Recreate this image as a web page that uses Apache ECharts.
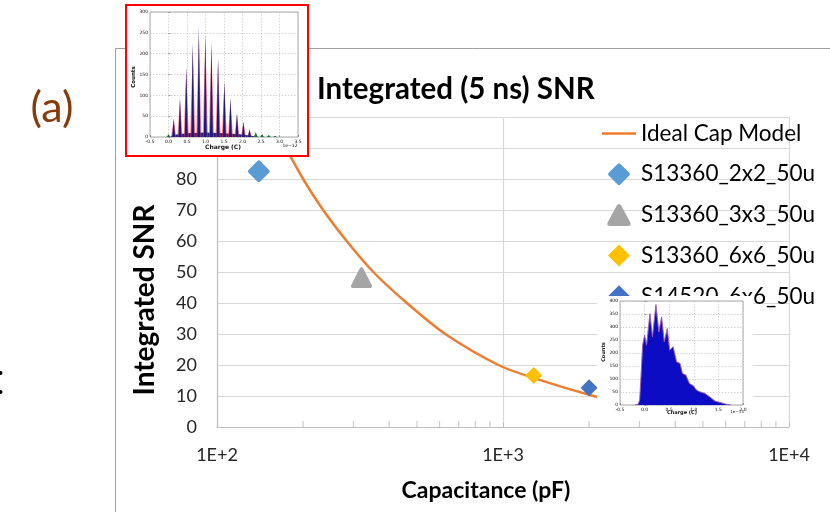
<!DOCTYPE html>
<html>
<head>
<meta charset="utf-8">
<script src="https://cdn.jsdelivr.net/npm/echarts@6/dist/echarts.min.js"></script>
<style>
  html, body { margin: 0; padding: 0; background: #fff; }
  #chart { width: 830px; height: 512px; }
</style>
</head>
<body>
<div id="chart"></div>
<script>
// ---- Main plot: integrated SNR vs. detector capacitance ----
const capMinorTicks = [200, 300, 400, 500, 600, 700, 800, 900, 2000, 3000, 4000, 5000, 6000, 7000, 8000, 9000];
const seriesNames = ['Ideal Cap Model', 'S13360_2x2_50u', 'S13360_3x3_50u', 'S13360_6x6_50u', 'S14520_6x6_50u'];

// Ideal capacitance model (pF, SNR)
const idealCapModel = [[155, 99], [165, 94], [200, 80], [235, 70], [284, 60], [352, 50], [461, 40],
  [628, 30], [964, 20], [1300, 15.6], [2073, 10], [2500, 8.5]];

// Measured SiPMs (pF, SNR)
const s13360_2x2 = [[140, 82.5]];
const s13360_3x3 = [[320, 48.2]];
const s13360_6x6 = [[1280, 16.6]];
const s14520_6x6 = [[2000, 12.7]];

// ---- Inset A: finger-spectrum charge histogram (charge in 1e-12 C) ----
const peakChargeA = [0.0, 0.14, 0.31, 0.48, 0.655, 0.82, 0.995, 1.16, 1.34, 1.51, 1.675, 1.85, 2.025, 2.19, 2.36, 2.53, 2.71, 2.88];
const peakCountsA = [7, 45, 94, 170, 228, 267, 247, 228, 190, 135, 95, 57, 37, 19, 12, 7, 5, 3];
const peakFitA = [5, 42, 90, 165, 215, 243, 240, 222, 185, 130, 90, 55, 35, 17, 10, 6, 4, 2];
const floorChargeA = [0.05, 0.12, 0.5, 1.0, 1.5, 2.0, 2.3, 2.45];
const floorCountsA = [0, 5, 9, 11, 9, 6, 2, 0];

// ---- Inset B: charge histogram (charge in 1e-13 C) ----
const chargeB = [-0.2, -0.13, -0.1, -0.07, -0.04, 0.0, 0.04, 0.108, 0.16, 0.23, 0.29, 0.345, 0.40, 0.46, 0.51,
  0.58, 0.65, 0.72, 0.77, 0.84, 0.91, 0.99, 1.05, 1.12, 1.22, 1.32, 1.43, 1.53, 1.66, 1.76];
const countsB = [0, 3, 20, 120, 230, 268, 230, 351, 262, 386, 281, 339, 243, 294, 211,
  224, 166, 160, 121, 115, 83, 74, 58, 51, 45, 32, 15, 10, 3, 0];

const FONT = 'Lato, "Open Sans", sans-serif';
const roundDiamond = 'path://M44,5 Q50,-1 56,5 L95,44 Q101,50 95,56 L56,95 Q50,101 44,95 L5,56 Q-1,50 5,44 Z';
const roundTriangle = 'path://M41,10 Q50,-4 59,10 L96,78 Q104,94 86,94 L14,94 Q-4,94 4,78 Z';
const plainDiamond = 'path://M50,0 L100,50 L50,100 L0,50 Z';
const legendLine = 'path://M0,0 L36,0 L36,2.6 L0,2.6 Z';

function zip(xs, ys) { return xs.map((x, i) => [x, ys[i]]); }

function peakRenderer(halfWidth, colorOf) {
  return function (params, api) {
    const x = api.value(0), h = api.value(1);
    return {
      type: 'polygon',
      shape: { points: [api.coord([x - halfWidth, 0]), api.coord([x, h]), api.coord([x + halfWidth, 0])] },
      style: { fill: colorOf(x) }
    };
  };
}

const insetAxisLabel = { fontSize: 4.5, color: '#111', fontFamily: 'DejaVu Sans', margin: 2, formatter: v => v.toFixed(1) };
const insetYLabel = { fontSize: 4.5, color: '#111', fontFamily: 'DejaVu Sans', margin: 2 };
const insetSplit = { show: true, lineStyle: { color: '#bbb', type: [1.5, 1.5], width: 0.6 } };
const insetTick = { show: true, inside: true, length: 2, lineStyle: { color: '#555', width: 0.5 } };

const chart = echarts.init(document.getElementById('chart'), null, { renderer: 'canvas' });

chart.setOption({
  animation: false,
  backgroundColor: '#fff',
  textStyle: { fontFamily: FONT },
  title: {
    text: 'Integrated (5 ns) SNR',
    left: 312, top: 69,
    textStyle: { fontFamily: FONT, fontSize: 29.5, fontWeight: 'bold', color: '#000' }
  },
  legend: {
    orient: 'vertical',
    left: 597, top: 117,
    itemWidth: 34, itemHeight: 22, itemGap: 17.7,
    symbolKeepAspect: true,
    z: 3,
    data: [
      { name: seriesNames[0], icon: legendLine, itemStyle: { color: '#ED7D31' } },
      { name: seriesNames[1], icon: roundDiamond },
      { name: seriesNames[2], icon: roundTriangle },
      { name: seriesNames[3], icon: plainDiamond },
      { name: seriesNames[4], icon: plainDiamond }
    ],
    textStyle: { fontFamily: FONT, fontSize: 22.5, color: '#000', lineHeight: 22 }
  },
  grid: [
    { left: 217, top: 117, right: 41, bottom: 85 },
    { left: 150, top: 12, width: 148, height: 125, show: true, backgroundColor: '#fff', borderColor: '#888', borderWidth: 0.7, z: 11 },
    { left: 620, top: 301, width: 123, height: 104, show: true, backgroundColor: '#fff', borderColor: '#888', borderWidth: 0.7, z: 11 }
  ],
  xAxis: [
    {
      type: 'log', logBase: 10, min: 100, max: 10000, gridIndex: 0,
      axisLine: { lineStyle: { color: '#bfbfbf', width: 1.2 } },
      axisTick: { show: true, inside: true, length: 5, lineStyle: { color: '#bfbfbf' } },
      axisLabel: { fontFamily: FONT, fontSize: 18, color: '#262626', margin: 19,
        formatter: v => '1E+' + Math.round(Math.log10(v)) },
      splitLine: { show: true, lineStyle: { color: '#d9d9d9', width: 1.2 } }
    },
    { type: 'value', gridIndex: 1, min: -0.5, max: 3.5, interval: 0.5, z: 12,
      axisLine: { show: false }, axisTick: insetTick, axisLabel: insetAxisLabel, splitLine: insetSplit },
    { type: 'value', gridIndex: 2, min: -0.5, max: 2.0, interval: 0.5, z: 12,
      axisLine: { show: false }, axisTick: insetTick, axisLabel: insetAxisLabel, splitLine: insetSplit }
  ],
  yAxis: [
    {
      type: 'value', min: 0, max: 100, interval: 10, gridIndex: 0,
      axisLine: { show: true, lineStyle: { color: '#bfbfbf', width: 1.2 } },
      axisTick: { show: false },
      axisLabel: { fontFamily: FONT, fontSize: 18, color: '#262626', margin: 20 },
      splitLine: { show: true, lineStyle: { color: '#d9d9d9', width: 1.2 } }
    },
    { type: 'value', gridIndex: 1, min: 0, max: 300, interval: 50, z: 12,
      axisLine: { show: false }, axisTick: insetTick, axisLabel: insetYLabel, splitLine: insetSplit },
    { type: 'value', gridIndex: 2, min: 0, max: 400, interval: 50, z: 12,
      axisLine: { show: false }, axisTick: insetTick, axisLabel: insetYLabel, splitLine: insetSplit }
  ],
  series: [
    {
      name: 'Ideal Cap Model', type: 'line', xAxisIndex: 0, yAxisIndex: 0,
      data: idealCapModel, smooth: 0.3, symbol: 'none',
      lineStyle: { color: '#ED7D31', width: 2.5 }, itemStyle: { color: '#ED7D31' }, z: 2
    },
    { name: 'S13360_2x2_50u', type: 'scatter', data: s13360_2x2, symbol: roundDiamond, symbolSize: 22,
      itemStyle: { color: '#5B9BD5', opacity: 1 }, z: 3 },
    { name: 'S13360_3x3_50u', type: 'scatter', data: s13360_3x3, symbol: roundTriangle, symbolSize: 21,
      itemStyle: { color: '#A5A5A5', opacity: 1 }, z: 3 },
    { name: 'S13360_6x6_50u', type: 'scatter', data: s13360_6x6, symbol: plainDiamond, symbolSize: 17,
      itemStyle: { color: '#FFC000', opacity: 1 }, z: 3 },
    { name: 'S14520_6x6_50u', type: 'scatter', data: s14520_6x6, symbol: plainDiamond, symbolSize: 17,
      itemStyle: { color: '#4472C4', opacity: 1 }, z: 3 },
    {
      // minor log ticks along the capacitance axis
      type: 'scatter', data: capMinorTicks.map(v => [v, 0]), silent: true,
      symbol: 'rect', symbolSize: [1.2, 6], symbolOffset: [0, -3],
      itemStyle: { color: '#bfbfbf' }, z: 1, clip: false
    },
    // Inset A
    {
      type: 'line', xAxisIndex: 1, yAxisIndex: 1, data: zip(floorChargeA, floorCountsA),
      symbol: 'none', lineStyle: { width: 0 }, areaStyle: { color: '#1a1a80', opacity: 1 }, z: 13, silent: true
    },
    {
      type: 'custom', xAxisIndex: 1, yAxisIndex: 1, data: zip(peakChargeA, peakFitA), z: 13, silent: true,
      renderItem: peakRenderer(0.07, x => (x < 0.05 || x > 2.3) ? 'rgba(60,150,90,0.6)' : 'rgba(240,60,80,0.65)')
    },
    {
      type: 'custom', xAxisIndex: 1, yAxisIndex: 1, data: zip(peakChargeA, peakCountsA), z: 14, silent: true,
      renderItem: peakRenderer(0.04, x => (x < 0.05 || x > 2.3) ? '#1d6b3a' : '#1c1a7a')
    },
    // Inset B
    {
      type: 'line', xAxisIndex: 2, yAxisIndex: 2, data: zip(chargeB, countsB),
      symbol: 'none', lineStyle: { color: '#6f7df0', width: 0.8 },
      areaStyle: { color: '#0c0cc4', opacity: 1 }, z: 13, silent: true
    },
    {
      type: 'line', xAxisIndex: 2, yAxisIndex: 2, data: zip(chargeB, countsB),
      symbol: 'none', lineStyle: { color: 'rgba(230,40,60,0.55)', width: 0.6 }, z: 14, silent: true
    }
  ],
  graphic: [
    { type: 'polyline', z: 0, silent: true,
      shape: { points: [[115.5, 512], [115.5, 48.5], [830, 48.5]] },
      style: { stroke: '#a0a0a0', lineWidth: 1, fill: null } },
    { type: 'text', x: 52, y: 108, z: 5,
      style: { text: '(a)', fontFamily: FONT, fontSize: 43, fill: '#843C0C', align: 'center', verticalAlign: 'middle' } },
    { type: 'circle', z: 5, silent: true, shape: { cx: 0.5, cy: 373, r: 2 }, style: { fill: '#000' } },
    { type: 'circle', z: 5, silent: true, shape: { cx: 0.5, cy: 392, r: 2 }, style: { fill: '#000' } },
    // axis titles
    { type: 'text', z: 5, x: 145, y: 300, rotation: Math.PI / 2, silent: true,
      style: { text: 'Integrated SNR', fontFamily: FONT, fontSize: 28, fontWeight: 'bold', fill: '#000', align: 'center', verticalAlign: 'middle' } },
    { type: 'text', z: 5, x: 486, y: 491, silent: true,
      style: { text: 'Capacitance (pF)', fontFamily: FONT, fontSize: 23, fontWeight: 'bold', fill: '#000', align: 'center', verticalAlign: 'middle' } },
    // inset cards
    { type: 'rect', z: 10, silent: true, shape: { x: 126, y: 5, width: 182, height: 151 },
      style: { fill: '#fff', stroke: '#ff0000', lineWidth: 2 } },
    { type: 'rect', z: 10, silent: true, shape: { x: 597, y: 296, width: 156, height: 120 },
      style: { fill: '#fff' } },
    // inset A annotations
    { type: 'text', z: 15, x: 134, y: 77, rotation: Math.PI / 2, silent: true,
      style: { text: 'Counts', fontFamily: 'DejaVu Sans', fontSize: 5.5, fontWeight: 'bold', fill: '#111', align: 'center', verticalAlign: 'middle' } },
    { type: 'text', z: 15, x: 223, y: 147, silent: true,
      style: { text: 'Charge (C)', fontFamily: 'DejaVu Sans', fontSize: 6, fontWeight: 'bold', fill: '#111', align: 'center', verticalAlign: 'middle' } },
    { type: 'text', z: 15, x: 290, y: 146, silent: true,
      style: { text: '1e\u221212', fontFamily: 'DejaVu Sans', fontSize: 4.5, fill: '#111', align: 'center', verticalAlign: 'middle' } },
    // inset B annotations
    { type: 'text', z: 15, x: 604, y: 352, rotation: Math.PI / 2, silent: true,
      style: { text: 'Counts', fontFamily: 'DejaVu Sans', fontSize: 5, fontWeight: 'bold', fill: '#111', align: 'center', verticalAlign: 'middle' } },
    { type: 'text', z: 15, x: 682, y: 412.5, silent: true,
      style: { text: 'Charge (C)', fontFamily: 'DejaVu Sans', fontSize: 5, fontWeight: 'bold', fill: '#111', align: 'center', verticalAlign: 'middle' } },
    { type: 'text', z: 15, x: 737, y: 412, silent: true,
      style: { text: '1e\u221213', fontFamily: 'DejaVu Sans', fontSize: 4, fill: '#111', align: 'center', verticalAlign: 'middle' } }
  ]
});
</script>
</body>
</html>
